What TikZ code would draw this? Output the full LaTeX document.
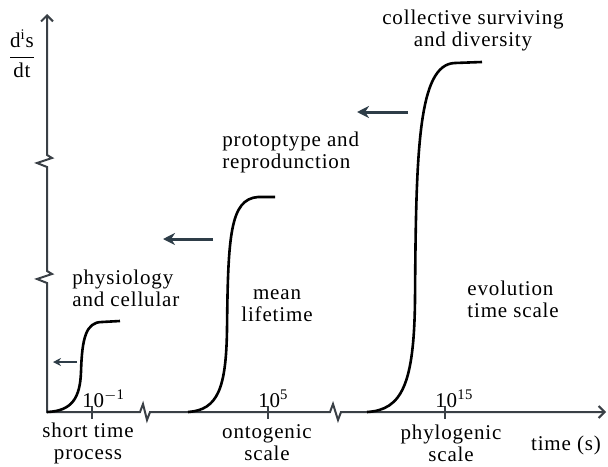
\documentclass[tikz,border=0pt]{standalone}
\usepackage{fontspec}
\setmainfont{Liberation Serif}[LetterSpace=4]
\usetikzlibrary{arrows.meta}

\definecolor{axisgray}{HTML}{3A4046}
\definecolor{arrowslate}{HTML}{2E3D48}
\tikzset{
  axisline/.style={draw=axisgray,line width=1pt,line join=miter},
  growth/.style={draw=black,line width=1.3pt},
  shiftarrow/.style={draw=arrowslate,line width=1.5pt,-{Stealth[length=6pt,width=6pt]}},
  smallshift/.style={draw=arrowslate,line width=1pt,-{Stealth[length=4pt,width=4pt]}},
  lbl/.style={font=\fontsize{10.5}{11}\selectfont,inner sep=0pt,align=center},
}

\begin{document}
\begin{tikzpicture}[x=0.5pt,y=-0.5pt]
  \useasboundingbox (0,0) rectangle (608,466);
  % Draw axes with breaks
  \draw[axisline,{Straight Barb[length=3pt,width=6pt]}-{Straight Barb[length=3pt,width=6pt]}]
    (47,14) -- (47,155) -- (52,158) -- (37,163) -- (47,167)
    -- (47,271) -- (52,274) -- (37,279) -- (47,283) -- (47,412)
    -- (140,412) -- (143,404) -- (147,420) -- (150,412)
    -- (330,412) -- (333,404) -- (338,420) -- (341,412) -- (606,412);
  % Draw ticks and powers of ten
  \foreach \x/\e/\name in {92/$-$1/pa,268/5/pb,445/15/pc} {
    \draw[axisline] (\x,406) -- (\x,419);
    \node[lbl,anchor=base west] (\name) at (\x-10,407) {10\textsuperscript{\e}};
  }
  % Scale names under the axis
  \foreach \x/\name/\txt in {88/short/{short time\\process},267/onto/{ontogenic\\scale},451/phylo/{phylogenic\\scale}} {
    \node[lbl] (\name) at (\x,443) {\txt};
  }
  \node[lbl] (timelbl) at (566,445) {time (s)};
  \node[lbl] (rate) at (22,54) {$\displaystyle\frac{\mbox{d\textsuperscript{i}s}}{\mbox{dt}}$};
  % Growth curves
  \draw[growth] (47,412) .. controls (72,411) and (80,398) .. (81,372)
    .. controls (82,338) and (86,322) .. (102,322) -- (120,321);
  \draw[growth] (188,412) .. controls (218,410) and (226,388) .. (227,330)
    .. controls (228,236) and (230,199) .. (258,197) -- (275,197);
  \draw[growth] (367,412) .. controls (402,410) and (414,384) .. (415,300)
    .. controls (416,150) and (418,64) .. (455,63) -- (482,62);
  % Shift arrows
  \draw[smallshift] (77,362) -- (53,362);
  \foreach \xa/\xb/\y in {213/163/239,408/357/112}
    \draw[shiftarrow] (\xa,\y) -- (\xb,\y);
  % Stage labels
  \node[lbl,anchor=west,align=left] (physio) at (72,288) {physiology\\and cellular};
  \node[lbl] (mean) at (277,306) {mean\\lifetime};
  \node[lbl,anchor=west,align=left] (proto) at (222,152) {protoptype and\\reprodunction};
  \node[lbl,anchor=west,align=left] (evol) at (467,299) {evolution\\time scale};
  \node[lbl] (collect) at (473,30) {collective surviving\\and diversity};
\end{tikzpicture}
\end{document}
